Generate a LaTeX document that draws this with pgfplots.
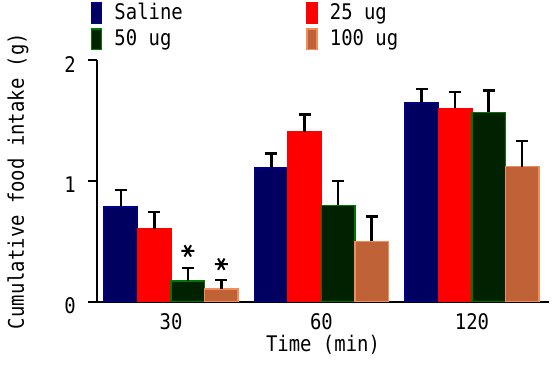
\documentclass[border=0pt]{standalone}
\usepackage{fontspec}
\setmainfont{DejaVu Sans Mono}[FakeStretch=0.88]
\usepackage{pgfplots}
\pgfplotsset{compat=1.18}
\definecolor{cSal}{RGB}{0,0,96}
\definecolor{cSalE}{RGB}{0,0,140}
\definecolor{cT}{RGB}{255,0,0}
\definecolor{cF}{RGB}{0,34,0}
\definecolor{cFE}{RGB}{0,120,0}
\definecolor{cH}{RGB}{192,98,56}
\definecolor{cHE}{RGB}{242,140,90}
\begin{document}
\begin{tikzpicture}[font=\fontsize{21.5bp}{24bp}\selectfont]
\begin{axis}[
  scale only axis, width=452bp, height=241bp,
  xmin=-0.492, xmax=2.512, ymin=0, ymax=2,
  axis x line*=bottom, axis y line*=left,
  axis line style={line width=2bp, -, black},
  xtick={0,1,2}, xticklabels={30,60,120},
  ytick={0,1,2},
  x tick style={draw=none},
  y tick style={line width=2bp, black},
  tick align=outside, major tick length=9bp,
  /pgf/number format/assume math mode=true,
  xticklabel style={anchor=base, inner sep=0pt, yshift=-18.5bp},
  yticklabel style={anchor=east, inner sep=0pt, xshift=-12bp, yshift=-4bp},
  xlabel={Time (min)},
  xlabel style={at={(axis description cs:0.5,-0.2054)}, anchor=base, inner sep=0pt},
  ylabel={Cumulative food intake (g)},
  ylabel style={at={(axis description cs:-0.1748,0.5)}, anchor=center, inner sep=0pt},
  legend columns=2,
  legend cell align=left,
  legend style={draw=none, fill=none, at={(axis description cs:-0.0133,1.2427)}, anchor=north west,
    inner sep=0pt, outer sep=0pt, row sep=4bp,
    nodes={inner sep=0pt, anchor=base west},
    /tikz/every odd column/.append style={column sep=12bp},
    /tikz/every even column/.append style={column sep=123.6bp}},
  errb/.style={draw=none, mark=none, forget plot,
    error bars/.cd, y dir=plus, y explicit,
    error bar style={black, line width=2.5bp},
    error mark options={black, line width=2.5bp, mark size=6bp, rotate=90}},
]
\addplot[ybar, bar width=0.2226, bar shift=-0.3339, fill=cSal, draw=cSalE, line width=1.5bp,
  legend image code/.code={\draw[fill=cSal, draw=cSalE, line width=1.5bp] (0bp,-3.5bp) rectangle (10bp,17bp);}]
  coordinates {(0,0.784) (1,1.108) (2,1.653)};
\addlegendentry{Saline}
\addplot[ybar, bar width=0.2226, bar shift=-0.1113, fill=cT, draw=cT, line width=1.5bp,
  legend image code/.code={\draw[fill=cT, draw=cT, line width=1.5bp] (0bp,-3.5bp) rectangle (10bp,17bp);}]
  coordinates {(0,0.600) (1,1.409) (2,1.603)};
\addlegendentry{25 ug}
\addplot[ybar, bar width=0.2226, bar shift=0.1113, fill=cF, draw=cFE, line width=1.5bp,
  legend image code/.code={\draw[fill=cF, draw=cFE, line width=1.5bp] (0bp,-3.5bp) rectangle (10bp,17bp);}]
  coordinates {(0,0.170) (1,0.798) (2,1.570)};
\addlegendentry{50 ug}
\addplot[ybar, bar width=0.2226, bar shift=0.3339, fill=cH, draw=cHE, line width=1.5bp,
  legend image code/.code={\draw[fill=cH, draw=cHE, line width=1.5bp] (0bp,-3.5bp) rectangle (10bp,17bp);}]
  coordinates {(0,0.104) (1,0.500) (2,1.119)};
\addlegendentry{100 ug}
% error bars (upper only), at the shifted bar centres
\addplot[errb] coordinates {(-0.3339,0.784) +- (0,0.141) (0.6661,1.108) +- (0,0.119) (1.6661,1.653) +- (0,0.110)};
\addplot[errb] coordinates {(-0.1113,0.600) +- (0,0.143) (0.8887,1.409) +- (0,0.144) (1.8887,1.603) +- (0,0.136)};
\addplot[errb] coordinates {(0.1113,0.170) +- (0,0.108) (1.1113,0.798) +- (0,0.202) (2.1113,1.570) +- (0,0.179)};
\addplot[errb] coordinates {(0.3339,0.104) +- (0,0.074) (1.3339,0.500) +- (0,0.204) (2.3339,1.119) +- (0,0.215)};
\addplot[only marks, mark=asterisk, mark size=6.5bp, mark options={rotate=90, line width=2bp, black}, forget plot]
  coordinates {(0.1113,0.42) (0.3339,0.31)};
\end{axis}
\pgfresetboundingbox
\path[use as bounding box] ([xshift=-97bp, yshift=-63.5bp]current axis.south west) rectangle ++(552bp,365bp);
\end{tikzpicture}
\end{document}
